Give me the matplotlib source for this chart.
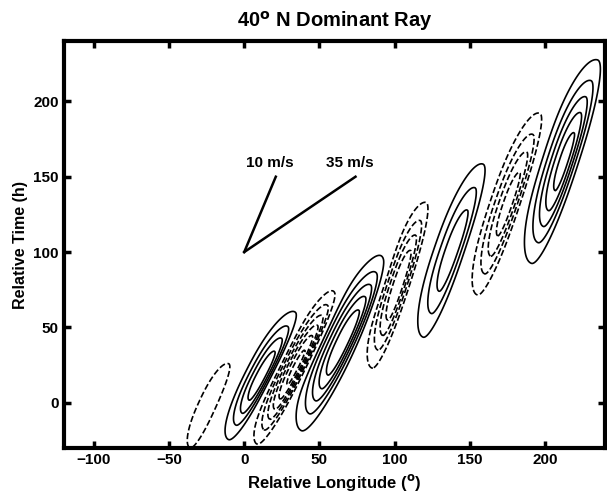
import numpy as np
import matplotlib.pyplot as plt

plt.rcParams['font.family'] = ['Liberation Sans', 'DejaVu Sans']
plt.rcParams['font.weight'] = 'bold'

# lobes of the dominant-ray composite (centre, along-axis extent, width, amplitude)
lobe_lon = [-23, 12, 35, 66, 103, 139, 176, 213]
lobe_time = [-2, 18, 24, 40, 78, 101, 132, 160]
lobe_dlon = [26, 45, 53, 56, 36, 40, 42, 44]
lobe_dtime = [56, 85, 103, 117, 110, 115, 121, 135]
lobe_width = [6, 9, 9, 12, 9, 10, 10, 12]
lobe_amp = [-1.4, 4.8, -6.5, 6.0, -5.0, 3.8, -4.6, 5.5]

contour_levels = [-7, -6, -5, -4, -3, -2, -1, 1, 2, 3, 4, 5, 6, 7]

# phase-speed reference lines from (0, 100)
speed_labels = ['10 m/s', '35 m/s']
speed_end_lon = [21, 74]
speed_end_time = [150, 150]


def build_field(lon, time):
    field = np.zeros_like(lon)
    for cx, ct, dx, dt, w, a in zip(lobe_lon, lobe_time, lobe_dlon, lobe_dtime,
                                    lobe_width, lobe_amp):
        half = 0.5 * np.hypot(dx, dt)
        ux, ut = dx / (2 * half), dt / (2 * half)
        along = (lon - cx) * ux + (time - ct) * ut
        across = -(lon - cx) * ut + (time - ct) * ux
        k = 2 * np.log(abs(a))
        p = 2.3
        sa = half / k ** (1 / p)
        # steeper on the leading (east) flank
        sc = np.where(across < 0, 0.75 * w, 1.25 * w) / np.sqrt(k)
        field += a * np.exp(-0.5 * (np.abs(along / sa) ** p + (across / sc) ** 2))
    return field


lon = np.linspace(-120, 240, 600)
time = np.linspace(-30, 240, 500)
LON, TIME = np.meshgrid(lon, time)
Z = build_field(LON, TIME)

fig = plt.figure(figsize=(6.07, 4.95), dpi=100)
ax = fig.add_axes([0.105, 0.095, 0.892, 0.822])

cs = ax.contour(LON, TIME, Z, levels=contour_levels, colors='black',
                linewidths=1.2, negative_linestyles='dashed')

for lbl, ex, et in zip(speed_labels, speed_end_lon, speed_end_time):
    ax.plot([0, ex], [100, et], color='black', lw=1.8)
    ax.text(ex - 4, et + 9, lbl, ha='center', va='center', fontsize=11,
            fontweight='bold')

ax.set_xlim(-120, 240)
ax.set_ylim(-30, 240)
ax.set_xticks([-100, -50, 0, 50, 100, 150, 200])
ax.set_yticks([0, 50, 100, 150, 200])
ax.tick_params(direction='in', top=True, right=True, length=5, width=2.5,
               labelsize=11)
for sp in ax.spines.values():
    sp.set_linewidth(3)

ax.set_title('40$^{\\mathrm{o}}$ N Dominant Ray', fontsize=14.5,
             fontweight='bold', pad=10)
ax.set_xlabel('Relative Longitude ($^{\\mathrm{o}}$)', fontsize=12,
              fontweight='bold', labelpad=4)
ax.set_ylabel('Relative Time (h)', fontsize=11.5, fontweight='bold')

fig.savefig('out.png', dpi=100)
